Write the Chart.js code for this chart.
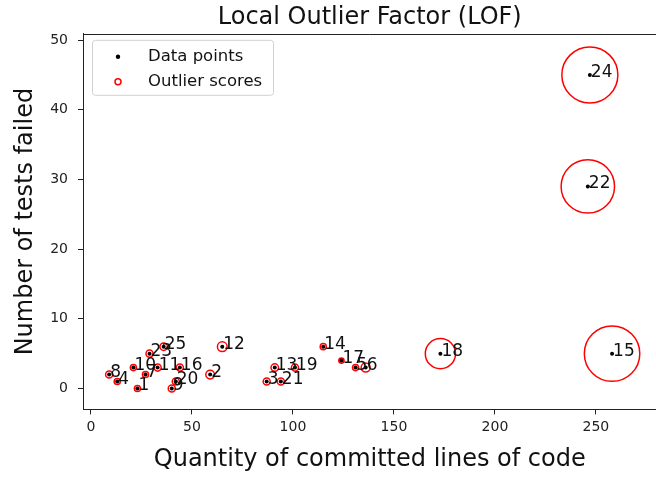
<!DOCTYPE html>
<html>
<head>
<meta charset="utf-8">
<script src="https://cdn.jsdelivr.net/npm/chart.js@4"></script>
<style>
  html, body { margin: 0; background: #fff; overflow: hidden; }
  #chart { display: block; }
</style>
</head>
<body>
<canvas id="chart" width="686" height="478"></canvas>
<script>
// point ids used as annotations
const pointIds = ['1', '2', '3', '4', '5', '6', '7', '8', '9', '10', '11', '12', '13',
                  '14', '15', '16', '17', '18', '19', '20', '21', '22', '23', '24', '25'];
// committed lines of code (x)
const linesOfCode = [23, 59, 87, 13, 131, 136, 27, 9, 40, 21, 33, 65, 91,
                     115, 258, 44, 124, 173, 101, 42, 94, 246, 29, 247, 36];
// tests failed (y)
const testsFailed = [0, 2, 1, 1, 3, 3, 2, 2, 0, 3, 3, 6, 3,
                     6, 5, 3, 4, 5, 3, 1, 1, 29, 5, 45, 6];
// normalised outlier scores
const outlierScores = [0.012, 0.024, 0.016, 0.012, 0.012, 0.026, 0.012, 0.016, 0.016, 0.012, 0.016, 0.03, 0.018,
                       0.012, 0.98, 0.016, 0.009, 0.29, 0.016, 0.016, 0.016, 0.91, 0.016, 1.0, 0.018];

const xTicks = [0, 50, 100, 150, 200, 250];
const yTicks = [0, 10, 20, 30, 40, 50];

const FONT = '"DejaVu Sans", sans-serif';

const points = linesOfCode.map((x, i) => ({ x: x, y: testsFailed[i] }));

// top spine
const topSpine = {
    id: 'topSpine',
    afterDraw(chart) {
        const { ctx, chartArea } = chart;
        ctx.save();
        ctx.strokeStyle = '#222';
        ctx.lineWidth = 1;
        ctx.beginPath();
        ctx.moveTo(chartArea.left, Math.round(chartArea.top) + 0.5);
        ctx.lineTo(chartArea.right, Math.round(chartArea.top) + 0.5);
        ctx.stroke();
        ctx.restore();
    }
};

// number next to each point
const pointLabels = {
    id: 'pointLabels',
    afterDatasetsDraw(chart) {
        const { ctx, scales: { x, y } } = chart;
        ctx.save();
        ctx.font = '17px ' + FONT;
        ctx.fillStyle = '#111';
        ctx.textAlign = 'left';
        ctx.textBaseline = 'alphabetic';
        pointIds.forEach((id, i) => {
            ctx.fillText(id, x.getPixelForValue(linesOfCode[i]) + 1, y.getPixelForValue(testsFailed[i]) + 2);
        });
        ctx.restore();
    }
};

// matplotlib style legend box in the upper left corner
const boxLegend = {
    id: 'boxLegend',
    afterDraw(chart) {
        const { ctx, chartArea } = chart;
        const left = chartArea.left + 9, top = chartArea.top + 6;
        const w = 181, h = 55;
        ctx.save();
        ctx.fillStyle = 'rgba(255,255,255,0.8)';
        ctx.strokeStyle = '#d0d0d0';
        ctx.lineWidth = 1;
        ctx.beginPath();
        ctx.roundRect(left + 0.5, top + 0.5, w, h, 3);
        ctx.fill();
        ctx.stroke();

        ctx.font = '16.5px ' + FONT;
        ctx.textBaseline = 'middle';
        chart.data.datasets.forEach((ds, i) => {
            const cy = top + 17 + i * 25;
            const cx = left + 26;
            ctx.beginPath();
            if (i === 0) {
                ctx.fillStyle = '#000';
                ctx.arc(cx, cy, 2.2, 0, Math.PI * 2);
                ctx.fill();
            } else {
                ctx.strokeStyle = '#ff0000';
                ctx.lineWidth = 1.5;
                ctx.arc(cx, cy, 3, 0, Math.PI * 2);
                ctx.stroke();
            }
            ctx.fillStyle = '#111';
            ctx.fillText(ds.label, left + 56, cy);
        });
        ctx.restore();
    }
};

new Chart(document.getElementById('chart'), {
    type: 'scatter',
    data: {
        datasets: [
            {
                label: 'Data points',
                data: points,
                pointRadius: 2,
                pointHoverRadius: 2,
                backgroundColor: '#000',
                borderColor: '#000',
                borderWidth: 0
            },
            {
                label: 'Outlier scores',
                data: points,
                pointRadius: ctx => 28 * Math.sqrt(outlierScores[ctx.dataIndex]),
                pointHoverRadius: ctx => 28 * Math.sqrt(outlierScores[ctx.dataIndex]),
                backgroundColor: 'rgba(0,0,0,0)',
                borderColor: '#ff0000',
                borderWidth: 1.5
            }
        ]
    },
    options: {
        responsive: false,
        animation: false,
        events: [],
        layout: { padding: { left: 0, right: 0, top: 0, bottom: 4 } },
        plugins: {
            legend: { display: false },
            tooltip: { enabled: false },
            title: {
                display: true,
                text: 'Local Outlier Factor (LOF)',
                fullSize: false,
                color: '#111',
                font: { family: FONT, size: 24, weight: 'normal' },
                padding: { top: 3, bottom: 2 }
            }
        },
        scales: {
            x: {
                type: 'linear',
                min: -3.95,
                max: 280,
                afterBuildTicks: scale => { scale.ticks = xTicks.map(v => ({ value: v })); },
                afterFit: scale => { scale.paddingRight = 0; scale.paddingLeft = 0; },
                grid: { drawOnChartArea: false, color: '#222', tickLength: 5 },
                border: { color: '#222' },
                ticks: { color: '#222', font: { family: FONT, size: 14 }, padding: 5, maxRotation: 0 },
                title: {
                    display: true,
                    text: 'Quantity of committed lines of code',
                    color: '#111',
                    font: { family: FONT, size: 24 },
                    padding: { top: 4, bottom: 0 }
                }
            },
            y: {
                type: 'linear',
                min: -3.0,
                max: 50.9,
                afterBuildTicks: scale => { scale.ticks = yTicks.map(v => ({ value: v })); },
                afterFit: scale => { scale.width = 83; },
                grid: { drawOnChartArea: false, color: '#222', tickLength: 5 },
                border: { color: '#222' },
                ticks: { color: '#222', font: { family: FONT, size: 14 }, padding: 10 },
                title: {
                    display: true,
                    text: 'Number of tests failed',
                    color: '#111',
                    font: { family: FONT, size: 24 },
                    padding: { top: 11, bottom: 0 }
                }
            }
        }
    },
    plugins: [topSpine, pointLabels, boxLegend]
});
</script>
</body>
</html>
